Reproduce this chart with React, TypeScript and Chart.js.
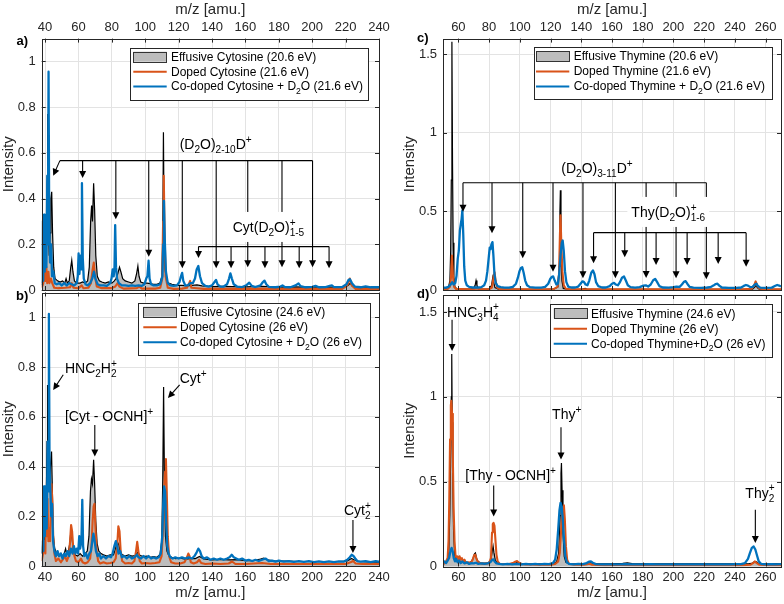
import React, { useEffect, useRef } from "react";
import { Chart, registerables } from "chart.js";

Chart.register(...registerables);

type Pt = [number, number];
type Seg = [string, string?, string?];

const FONT = '"Liberation Sans", Arial, Helvetica, sans-serif';
const BLUE = "#0072BD";
const ORANGE = "#D95319";
const GRAYFILL = "#bdbdbd";
const AXIS = "#262626";
const GRID = "#e3e3e3";

// ---------- tick labels ----------
const cytXTicks = [40, 60, 80, 100, 120, 140, 160, 180, 200, 220, 240];
const cytYTicks = [0, 0.2, 0.4, 0.6, 0.8, 1];
const thyXTicks = [60, 80, 100, 120, 140, 160, 180, 200, 220, 240, 260];
const thyYTicks = [0, 0.5, 1, 1.5];

// ---------- panel a : cytosine, ~21 eV ----------
const aEff: Pt[] = [[38,0.02],[38.6,0.05],[39.2,0.12],[39.6,0.05],[40.3,0.1],[40.9,0.3],[41.3,0.5],[41.6,0.77],[42,0.3],[42.5,0.15],[43,0.25],[43.5,0.4],[44,0.43],[44.5,0.25],[45.2,0.1],[46,0.05],[47.5,0.04],[49,0.035],[50.5,0.04],[51.8,0.03],[52.6,0.05],[53.4,0.03],[54.5,0.04],[55.4,0.1],[56,0.13],[56.7,0.08],[57.6,0.04],[59,0.03],[61,0.03],[62.5,0.035],[64,0.03],[65.5,0.04],[66.5,0.1],[67.3,0.3],[67.9,0.37],[68.4,0.3],[69.1,0.467],[69.7,0.35],[70.4,0.15],[71.3,0.06],[72.5,0.04],[74,0.035],[76,0.03],[78,0.035],[80,0.03],[81.5,0.04],[82.5,0.05],[83.5,0.07],[84.6,0.1],[85.4,0.08],[86.5,0.05],[88,0.04],[90,0.035],[92,0.03],[93.8,0.04],[94.8,0.07],[95.6,0.105],[96.3,0.06],[97.3,0.035],[99,0.03],[101,0.03],[103,0.028],[105,0.025],[107,0.025],[108.8,0.03],[110,0.06],[110.5,0.25],[110.9,0.69],[111.3,0.3],[111.9,0.09],[112.8,0.04],[114,0.03],[116,0.025],[119,0.02],[122,0.02],[125,0.018],[128,0.02],[131,0.022],[134,0.018],[140,0.015],[146,0.016],[152,0.015],[160,0.014],[170,0.016],[180,0.013],[190,0.014],[200,0.012],[210,0.013],[218,0.012],[221.5,0.02],[222.8,0.03],[224,0.018],[228,0.012],[234,0.012],[240,0.01]];
const aDop: Pt[] = [[38,0.01],[39,0.03],[39.7,0.12],[40.2,0.04],[40.8,0.1],[41.3,0.03],[42,0.08],[42.6,0.03],[43.5,0.05],[44.3,0.03],[45.5,0.01],[48,0.008],[52,0.01],[55,0.012],[56,0.03],[57,0.01],[60,0.008],[62,0.02],[63,0.008],[66,0.01],[67.5,0.03],[68.5,0.09],[69.2,0.12],[69.9,0.06],[71,0.015],[74,0.008],[80,0.008],[82,0.015],[83.5,0.03],[84.5,0.015],[87,0.006],[95,0.008],[96.5,0.015],[98,0.006],[106,0.006],[109,0.01],[110.2,0.05],[110.7,0.3],[111.1,0.5],[111.6,0.25],[112.2,0.06],[113.5,0.01],[117,0.005],[122,0.006],[125,0.01],[126.3,0.03],[126.9,0.04],[127.6,0.01],[131,0.008],[135,0.005],[150,0.005],[170,0.005],[200,0.005],[218,0.005],[221,0.02],[222.5,0.05],[223.7,0.02],[226,0.005],[240,0.005]];
const aCo: Pt[] = [[38,0.03],[38.5,0.3],[38.9,0.04],[39.4,0.33],[39.8,0.08],[40.3,0.25],[40.8,0.1],[41.4,0.5],[41.7,0.2],[42.1,0.955],[42.5,0.3],[43,0.12],[43.6,0.2],[44.2,0.06],[45,0.08],[45.8,0.03],[47,0.025],[48.5,0.03],[50,0.02],[51.5,0.03],[53,0.02],[54.5,0.03],[56,0.025],[57.5,0.02],[59,0.03],[59.6,0.06],[60.1,0.16],[60.6,0.07],[61.2,0.15],[61.6,0.09],[62.1,0.467],[62.6,0.14],[63.2,0.05],[64.3,0.025],[65.5,0.02],[67,0.03],[68.3,0.05],[69.3,0.08],[70.2,0.05],[71.5,0.025],[73,0.02],[75,0.02],[77,0.018],[79,0.03],[79.8,0.05],[80.5,0.09],[81.1,0.06],[81.6,0.1],[82,0.284],[82.5,0.1],[83.1,0.05],[84.2,0.03],[86,0.02],[88,0.02],[90,0.018],[92,0.02],[94,0.018],[96,0.02],[98,0.018],[99.5,0.025],[100.6,0.05],[101.3,0.06],[102,0.128],[102.6,0.05],[103.5,0.025],[105,0.02],[107,0.02],[109,0.025],[110.3,0.06],[110.8,0.2],[111.2,0.39],[111.7,0.22],[112.4,0.08],[113.5,0.03],[115,0.02],[117,0.018],[119,0.02],[120.5,0.035],[121.4,0.06],[122.1,0.075],[122.8,0.04],[124,0.02],[125.5,0.02],[127,0.03],[128.5,0.03],[129.8,0.05],[130.8,0.09],[131.8,0.105],[132.8,0.06],[134,0.03],[136,0.018],[138,0.015],[140,0.02],[141.5,0.035],[142.4,0.044],[143.3,0.025],[145,0.015],[147,0.015],[149,0.025],[150.2,0.05],[151,0.073],[151.9,0.05],[153,0.025],[155,0.015],[158,0.013],[160.5,0.02],[162.3,0.032],[163.8,0.018],[166,0.013],[169,0.02],[170.5,0.035],[171.4,0.041],[172.5,0.025],[174,0.014],[178,0.012],[181,0.015],[182.2,0.02],[183.5,0.013],[187,0.012],[190,0.02],[191.8,0.029],[193,0.017],[196,0.012],[200,0.014],[202,0.018],[204,0.012],[208,0.013],[210.5,0.018],[211.8,0.02],[213,0.013],[218,0.013],[220.5,0.025],[221.8,0.045],[222.6,0.047],[223.8,0.03],[225.5,0.015],[229,0.012],[232,0.016],[235,0.012],[238,0.013],[240,0.012]];

// ---------- panel b : cytosine, ~26 eV ----------
const bEff: Pt[] = [[38,0.05],[38.7,0.1],[39.3,0.15],[39.8,0.1],[40.4,0.2],[40.9,0.35],[41.2,0.5],[41.5,0.728],[41.9,0.4],[42.4,0.3],[42.9,0.35],[43.4,0.42],[43.9,0.46],[44.4,0.3],[45,0.12],[45.8,0.07],[47,0.05],[48.3,0.04],[49.5,0.05],[50.5,0.04],[51.5,0.05],[52.3,0.07],[53,0.05],[54,0.06],[54.8,0.09],[55.5,0.14],[56.2,0.11],[57,0.06],[58,0.045],[59.5,0.04],[61,0.05],[62.5,0.04],[64,0.05],[65.3,0.06],[66.3,0.12],[67.2,0.3],[67.8,0.35],[68.4,0.33],[69.1,0.427],[69.7,0.33],[70.4,0.18],[71.2,0.09],[72.2,0.06],[73.5,0.05],[75,0.045],[77,0.04],[79,0.045],[81,0.045],[82.2,0.07],[83.2,0.1],[84.2,0.085],[85.2,0.05],[86.5,0.045],[88,0.04],[90,0.045],[92,0.04],[94,0.042],[95.5,0.055],[97,0.042],[99,0.038],[101,0.04],[103,0.035],[105,0.038],[107,0.035],[108.8,0.045],[109.9,0.1],[110.5,0.35],[111,0.72],[111.5,0.35],[112.1,0.12],[113,0.06],[114.2,0.04],[116,0.035],[118,0.03],[121,0.032],[124,0.028],[127,0.03],[130,0.03],[132.5,0.038],[135,0.028],[140,0.025],[145,0.027],[150,0.025],[155,0.026],[160,0.022],[165,0.022],[169,0.028],[171,0.032],[173,0.025],[178,0.02],[185,0.02],[192,0.018],[200,0.018],[208,0.018],[216,0.018],[221,0.02],[223.5,0.03],[225,0.025],[228,0.018],[234,0.016],[240,0.015]];
const bDop: Pt[] = [[38,0.02],[38.8,0.05],[39.5,0.1],[40.2,0.05],[40.7,0.3],[41.1,0.12],[41.5,0.27],[42,0.1],[42.5,0.15],[43,0.1],[43.6,0.28],[43.9,0.33],[44.4,0.25],[44.9,0.12],[45.6,0.05],[46.5,0.02],[48,0.03],[49.5,0.015],[51,0.03],[52,0.04],[53,0.02],[54.2,0.04],[55,0.1],[55.6,0.165],[56.2,0.14],[56.8,0.08],[57.6,0.04],[58.5,0.02],[60,0.015],[61.5,0.03],[62.5,0.015],[64,0.01],[65.5,0.015],[67,0.03],[67.8,0.08],[68.5,0.18],[69.1,0.24],[69.6,0.25],[70.2,0.15],[70.9,0.06],[71.8,0.02],[73,0.01],[75,0.015],[77,0.01],[79,0.012],[81,0.015],[82.3,0.03],[83.2,0.08],[83.9,0.16],[84.6,0.14],[85.3,0.06],[86.2,0.02],[88,0.01],[90,0.012],[92,0.01],[93.5,0.02],[94.5,0.06],[95.2,0.097],[95.9,0.06],[96.7,0.02],[98,0.01],[100,0.012],[103,0.01],[106,0.012],[108.5,0.015],[109.8,0.04],[110.7,0.15],[111.3,0.3],[111.9,0.38],[112.4,0.43],[112.9,0.3],[113.5,0.12],[114.3,0.04],[115.5,0.015],[118,0.01],[121,0.01],[123.5,0.015],[125,0.035],[125.8,0.05],[126.5,0.04],[127.3,0.015],[129,0.01],[131,0.015],[132.3,0.025],[133.5,0.012],[136,0.008],[140,0.01],[145,0.008],[150,0.01],[152,0.018],[154,0.008],[160,0.008],[165,0.01],[170,0.012],[175,0.008],[180,0.008],[190,0.008],[200,0.008],[210,0.008],[220,0.008],[223,0.015],[224.5,0.02],[226,0.01],[230,0.008],[240,0.008]];
const bCo: Pt[] = [[38,0.05],[38.5,0.1],[39,0.06],[39.4,0.32],[39.9,0.12],[40.5,0.32],[41,0.15],[41.6,0.5],[42,0.3],[42.3,1.014],[42.7,0.4],[43.2,0.3],[43.7,0.2],[44.2,0.25],[44.8,0.1],[45.6,0.06],[46.5,0.04],[47.5,0.06],[48.5,0.04],[49.5,0.05],[50.5,0.03],[51.5,0.05],[52.5,0.04],[53.5,0.06],[54.5,0.04],[55.5,0.07],[56.5,0.05],[57.3,0.08],[58.2,0.05],[59,0.07],[59.8,0.05],[60.5,0.12],[61,0.07],[61.8,0.1],[62.3,0.266],[62.8,0.08],[63.5,0.04],[64.5,0.05],[65.5,0.03],[66.5,0.05],[67.5,0.06],[68.3,0.1],[69,0.13],[69.7,0.1],[70.5,0.06],[71.5,0.04],[72.5,0.05],[73.5,0.03],[75,0.04],[76.5,0.03],[78,0.04],[79.5,0.035],[80.5,0.05],[81.5,0.08],[82.4,0.1],[83.2,0.08],[84,0.05],[85,0.06],[86,0.035],[87.5,0.04],[89,0.03],[90.5,0.04],[92,0.03],[93.5,0.035],[95,0.045],[96,0.035],[97.5,0.03],[99,0.04],[100.5,0.03],[102,0.04],[103.5,0.03],[105,0.035],[106.5,0.03],[108,0.035],[109.3,0.05],[110.2,0.12],[110.8,0.25],[111.3,0.32],[111.9,0.3],[112.5,0.18],[113.2,0.08],[114,0.05],[115,0.035],[116.5,0.03],[118,0.035],[120,0.03],[122,0.035],[124,0.03],[126,0.035],[128,0.03],[129.5,0.04],[130.8,0.055],[131.8,0.07],[132.8,0.06],[133.8,0.04],[135,0.03],[137,0.035],[139,0.025],[141,0.03],[143,0.025],[145,0.03],[147,0.025],[149,0.03],[150.5,0.035],[151.8,0.045],[153,0.035],[154.5,0.03],[156,0.025],[158,0.03],[160,0.022],[162,0.025],[164,0.02],[166,0.025],[168,0.02],[170,0.025],[172,0.03],[174,0.02],[176,0.022],[178,0.018],[180,0.022],[183,0.018],[186,0.02],[189,0.017],[192,0.02],[195,0.017],[198,0.02],[201,0.016],[204,0.019],[207,0.016],[210,0.019],[213,0.016],[216,0.019],[219,0.018],[221,0.025],[222.5,0.035],[223.6,0.045],[224.7,0.04],[225.8,0.03],[227,0.02],[229,0.018],[232,0.02],[235,0.016],[238,0.02],[240,0.017]];

// ---------- panel c : thymine, ~21 eV ----------
const cEff: Pt[] = [[50,0.008],[52,0.01],[53.5,0.015],[54.5,0.06],[55,0.25],[55.4,0.7],[55.8,1.58],[56.2,0.8],[56.6,0.3],[57.1,0.08],[57.8,0.02],[58.8,0.01],[61,0.008],[64,0.006],[67,0.006],[70,0.01],[70.9,0.03],[71.5,0.06],[72.1,0.03],[73,0.008],[76,0.005],[80,0.006],[81.6,0.03],[82.4,0.08],[83,0.05],[83.8,0.015],[86,0.005],[95,0.005],[105,0.004],[115,0.004],[122,0.005],[124.8,0.02],[125.6,0.15],[126.1,0.5],[126.4,0.635],[126.8,0.3],[127.4,0.06],[128.3,0.01],[131,0.005],[140,0.004],[142.5,0.01],[144,0.004],[160,0.004],[180,0.004],[200,0.004],[220,0.004],[240,0.004],[251.5,0.006],[253,0.02],[253.8,0.03],[254.6,0.015],[256,0.004],[270,0.004]];
const cDop: Pt[] = [[50,0.005],[53,0.006],[54.5,0.02],[55.2,0.08],[55.8,0.22],[56.4,0.1],[57.2,0.02],[58.5,0.006],[62,0.006],[66,0.005],[70,0.006],[72,0.01],[74,0.005],[80,0.005],[81.8,0.015],[82.6,0.06],[83.2,0.1],[83.6,0.113],[84.2,0.06],[85.2,0.015],[87,0.005],[95,0.005],[105,0.005],[115,0.005],[122,0.006],[124.5,0.02],[125.5,0.1],[126.1,0.35],[126.5,0.475],[127,0.3],[127.7,0.12],[128.6,0.03],[130,0.008],[133,0.005],[145,0.005],[165,0.005],[185,0.005],[205,0.005],[225,0.005],[245,0.005],[251,0.008],[252.5,0.03],[253.5,0.055],[254.5,0.03],[256,0.008],[260,0.005],[270,0.005]];
const cCo: Pt[] = [[50,0.015],[52,0.015],[53.5,0.02],[55,0.035],[56,0.05],[57,0.035],[58,0.045],[58.8,0.09],[59.6,0.2],[60.3,0.25],[61,0.38],[61.6,0.42],[62.1,0.45],[62.6,0.507],[63.2,0.35],[63.8,0.15],[64.5,0.06],[65.5,0.03],[67,0.02],[69,0.016],[71,0.016],[73,0.016],[75,0.018],[76.8,0.03],[78,0.06],[78.9,0.12],[79.7,0.2],[80.4,0.27],[81,0.26],[81.5,0.29],[82.2,0.305],[82.8,0.22],[83.5,0.1],[84.3,0.045],[85.5,0.025],[87.5,0.018],[90,0.015],[93,0.015],[95.5,0.02],[97.5,0.04],[98.8,0.08],[99.8,0.12],[100.7,0.14],[101.6,0.145],[102.5,0.11],[103.5,0.06],[104.7,0.03],[106.5,0.018],[110,0.015],[114,0.015],[116.5,0.02],[118.5,0.04],[119.8,0.07],[120.8,0.084],[121.7,0.086],[122.7,0.06],[123.8,0.035],[124.8,0.04],[125.6,0.1],[126.5,0.22],[127.3,0.3],[127.9,0.315],[128.6,0.25],[129.4,0.12],[130.3,0.05],[131.5,0.022],[133.5,0.016],[136,0.016],[138,0.022],[139.5,0.04],[140.8,0.055],[141.8,0.05],[142.8,0.035],[144,0.03],[145.2,0.06],[146.5,0.11],[147.6,0.125],[148.6,0.1],[149.6,0.05],[151,0.025],[153.5,0.016],[156,0.016],[158.5,0.025],[160,0.04],[161.3,0.045],[162.5,0.035],[163.8,0.03],[165.2,0.05],[166.5,0.078],[167.8,0.086],[169,0.06],[170.3,0.03],[172,0.018],[175,0.015],[178,0.018],[180.5,0.028],[182,0.03],[183.5,0.022],[185.2,0.035],[186.8,0.062],[188.1,0.071],[189.4,0.05],[190.8,0.025],[193,0.016],[197,0.015],[200,0.018],[202,0.022],[204,0.02],[205.5,0.035],[206.8,0.052],[207.9,0.056],[209,0.04],[210.5,0.02],[213,0.015],[218,0.014],[222,0.016],[224,0.018],[226,0.028],[227.5,0.038],[228.6,0.04],[229.8,0.028],[231.5,0.016],[236,0.013],[241,0.014],[244,0.016],[245.8,0.026],[247.2,0.032],[248.5,0.028],[250,0.018],[251.5,0.02],[253,0.035],[254,0.04],[255,0.025],[256.5,0.015],[260,0.013],[264,0.015],[266,0.025],[267.5,0.032],[268.8,0.028],[270,0.022]];

// ---------- panel d : thymine, ~26 eV ----------
const dEff: Pt[] = [[50,0.02],[51,0.025],[52,0.03],[53,0.04],[53.8,0.1],[54.4,0.3],[54.9,0.6],[55.4,1.0],[55.7,1.253],[56,0.85],[56.4,0.5],[56.9,0.2],[57.6,0.07],[58.5,0.04],[60,0.035],[61.5,0.03],[63,0.03],[65,0.025],[67,0.022],[68.5,0.03],[69.6,0.05],[70.5,0.075],[71.1,0.08],[71.8,0.05],[72.8,0.03],[74.5,0.022],[77,0.02],[79.5,0.022],[81.2,0.04],[82.2,0.1],[82.6,0.12],[83.2,0.08],[84,0.04],[85.2,0.022],[87,0.018],[90,0.016],[94,0.017],[97,0.02],[98.5,0.024],[100,0.018],[104,0.016],[109,0.015],[114,0.016],[119,0.015],[122,0.017],[124,0.03],[125.3,0.08],[126.2,0.3],[126.8,0.55],[127.1,0.61],[127.5,0.45],[128.1,0.2],[128.9,0.06],[130,0.025],[132,0.017],[136,0.015],[141,0.016],[145,0.02],[146.5,0.023],[148,0.017],[153,0.015],[160,0.016],[167,0.018],[170,0.022],[173,0.017],[180,0.016],[188,0.015],[196,0.016],[204,0.015],[212,0.016],[220,0.015],[228,0.016],[236,0.015],[244,0.016],[249,0.016],[251.5,0.02],[253,0.03],[254,0.028],[255.5,0.017],[260,0.015],[265,0.016],[270,0.015]];
const dDop: Pt[] = [[50,0.01],[51,0.02],[52,0.03],[53,0.05],[53.6,0.15],[54.1,0.4],[54.6,0.75],[55.1,0.95],[55.4,0.976],[55.9,0.9],[56.4,0.65],[56.9,0.35],[57.5,0.15],[58.1,0.07],[58.7,0.05],[59.4,0.06],[60.1,0.04],[60.8,0.06],[61.5,0.04],[62.3,0.05],[63,0.03],[64,0.04],[65,0.02],[66.5,0.025],[68,0.02],[69.3,0.04],[70.2,0.065],[71,0.07],[71.8,0.045],[72.8,0.025],[74,0.02],[76,0.015],[78,0.017],[80,0.02],[81.2,0.05],[81.9,0.2],[82.4,0.25],[82.9,0.257],[83.5,0.24],[84.1,0.16],[84.8,0.07],[85.6,0.03],[87,0.015],[90,0.015],[93,0.014],[95.5,0.02],[97,0.028],[98.2,0.032],[99.4,0.022],[101,0.015],[104,0.012],[108,0.012],[112,0.01],[116,0.011],[120,0.011],[123,0.015],[125,0.03],[126,0.08],[126.8,0.2],[127.5,0.3],[128.2,0.35],[128.7,0.36],[129.3,0.28],[130,0.12],[130.8,0.04],[132,0.015],[136,0.01],[142,0.01],[145.5,0.016],[147,0.01],[155,0.008],[165,0.009],[175,0.008],[185,0.008],[195,0.008],[205,0.008],[215,0.008],[225,0.008],[235,0.008],[245,0.008],[250,0.01],[251.8,0.02],[253,0.03],[254.2,0.02],[256,0.01],[262,0.008],[270,0.008]];
const dCo: Pt[] = [[50,0.02],[51,0.03],[52,0.02],[53,0.035],[54,0.05],[54.8,0.09],[55.6,0.11],[56.3,0.09],[57,0.05],[57.8,0.03],[58.6,0.045],[59.5,0.025],[60.5,0.035],[61.5,0.02],[62.5,0.03],[64,0.018],[65.5,0.025],[67,0.015],[68.5,0.02],[70,0.018],[71.5,0.022],[73,0.015],[75,0.018],[77,0.015],[79,0.018],[80.8,0.025],[82,0.038],[82.8,0.042],[83.6,0.03],[84.8,0.018],[86.5,0.015],[89,0.013],[92,0.015],[95,0.013],[98,0.016],[101,0.013],[104,0.015],[107,0.013],[110,0.015],[113,0.013],[116,0.015],[119,0.014],[121.5,0.02],[123,0.04],[124,0.1],[125,0.22],[125.8,0.33],[126.5,0.375],[127.3,0.35],[128,0.27],[128.8,0.15],[129.6,0.06],[130.6,0.025],[132,0.015],[135,0.013],[138,0.015],[141,0.014],[143.5,0.02],[145,0.028],[146.3,0.03],[147.5,0.022],[149.5,0.014],[153,0.013],[157,0.012],[161,0.013],[165,0.012],[169,0.014],[173,0.012],[177,0.013],[181,0.012],[185,0.014],[189,0.012],[193,0.013],[197,0.012],[201,0.013],[205,0.012],[209,0.013],[213,0.012],[217,0.013],[221,0.012],[225,0.013],[229,0.012],[233,0.013],[237,0.012],[241,0.014],[244,0.014],[246.5,0.02],[248.5,0.045],[249.8,0.08],[251,0.11],[252.2,0.118],[253.3,0.1],[254.4,0.065],[255.5,0.03],[257,0.016],[260,0.013],[264,0.014],[267,0.013],[270,0.014]];

// ---------- legend labels ----------
const aLegend: Seg[][] = [[["Effusive Cytosine (20.6 eV)"]], [["Doped Cytosine (21.6 eV)"]], [["Co-doped Cytosine + D"], ["2", "b"], ["O (21.6 eV)"]]];
const bLegend: Seg[][] = [[["Effusive Cytosine (24.6 eV)"]], [["Doped Cytosine (26 eV)"]], [["Co-doped Cytosine + D"], ["2", "b"], ["O (26 eV)"]]];
const cLegend: Seg[][] = [[["Effusive Thymine (20.6 eV)"]], [["Doped Thymine (21.6 eV)"]], [["Co-doped Thymine + D"], ["2", "b"], ["O (21.6 eV)"]]];
const dLegend: Seg[][] = [[["Effusive Thymine (24.6 eV)"]], [["Doped Thymine (26 eV)"]], [["Co-doped Thymine+D"], ["2", "b"], ["O (26 eV)"]]];

// ---------- annotation series (m/z of the marked ions, arrow tip intensities) ----------
const aClusterMz = [62.5, 82.4, 102.1, 122.2, 142.5, 161.4, 181.9, 200.2];
const aClusterTip = [0.49, 0.31, 0.145, 0.095, 0.095, 0.1, 0.1, 0.1];
const aClusterBar = 0.566;
const aCytWaterMz = [131.9, 151.4, 171.7, 192.2, 210.1];
const aCytWaterTip = [0.14, 0.095, 0.095, 0.095, 0.095];
const aCytWaterBar = 0.19;
const cClusterMz = [63.0, 81.9, 101.9, 121.6, 141.1, 162.2, 182.2, 201.7, 221.4];
const cClusterTip = [0.498, 0.361, 0.202, 0.116, 0.074, 0.074, 0.077, 0.074, 0.068];
const cClusterBar = 0.683;
const cThyWaterMz = [148.0, 168.3, 188.7, 208.9, 229.1, 247.3];
const cThyWaterTip = [0.17, 0.208, 0.159, 0.159, 0.166, 0.148];
const cThyWaterBar = 0.365;

interface Arrow { from: Pt; to: Pt; head: boolean }
interface Label { m: number; i: number; segs: Seg[]; bg?: boolean }
interface Spec {
  eff: Pt[]; dop: Pt[]; co: Pt[];
  xMin: number; xMax: number; yMax: number; xTicks: number[]; yTicks: number[];
  xPos: "top" | "bottom";
  area: { l: number; t: number; r: number; b: number };
  letter: string; letterXY: Pt; yTitleX: number; xTitleY: number; xTickY: number;
  legend: { box: [number, number, number, number]; icon: Pt; textX: number; rows: number[]; labels: Seg[][] };
  labels: Label[]; arrows: Arrow[];
}

function bracket(mz: number[], tips: number[], bar: number, start?: number): Arrow[] {
  const out: Arrow[] = [{ from: [start ?? mz[0], bar], to: [mz[mz.length - 1], bar], head: false }];
  mz.forEach((m, k) => out.push({ from: [m, bar], to: [m, tips[k]], head: true }));
  return out;
}

const specs: Spec[] = [
  {
    eff: aEff, dop: aDop, co: aCo, xMin: 38, xMax: 240, yMax: 1.1, xTicks: cytXTicks, yTicks: cytYTicks,
    xPos: "top", area: { l: 41.7, t: 38.6, r: 379, b: 290 },
    letter: "a)", letterXY: [16.5, 44.5], yTitleX: 9, xTitleY: 9.5, xTickY: 27,
    legend: { box: [130, 47.7, 238.3, 52.3], icon: [133.3, 166.7], textX: 171, rows: [56.7, 71.3, 86], labels: aLegend },
    labels: [
      { m: 120.6, i: 0.617, segs: [["(D"], ["2", "b"], ["O)"], ["2-10", "b"], ["D"], ["+", "p"]] },
      { m: 152.4, i: 0.254, segs: [["Cyt(D"], ["2", "b"], ["O)"], ["+", "bp", "1-5"]], bg: true },
    ],
    arrows: [
      ...bracket(aClusterMz, aClusterTip, aClusterBar, 48.9),
      { from: [48.9, aClusterBar], to: [44.9, 0.5], head: true },
      ...bracket(aCytWaterMz, aCytWaterTip, aCytWaterBar),
    ],
  },
  {
    eff: bEff, dop: bDop, co: bCo, xMin: 38, xMax: 240, yMax: 1.1, xTicks: cytXTicks, yTicks: cytYTicks,
    xPos: "bottom", area: { l: 41.7, t: 292.5, r: 379, b: 566 },
    letter: "b)", letterXY: [16, 299.5], yTitleX: 9, xTitleY: 592.5, xTickY: 577,
    legend: { box: [138.3, 302.7, 231.7, 52.3], icon: [143.3, 176.7], textX: 180, rows: [311.7, 326.7, 341.7], labels: bLegend },
    labels: [
      { m: 51.9, i: 0.777, segs: [["HNC"], ["2", "b"], ["H"], ["+", "bp", "2"]] },
      { m: 51.9, i: 0.583, segs: [["[Cyt - OCNH]"], ["+", "p"]] },
      { m: 120.6, i: 0.736, segs: [["Cyt"], ["+", "p"]] },
      { m: 219, i: 0.205, segs: [["Cyt"], ["+", "bp", "2"]] },
    ],
    arrows: [
      { from: [50.9, 0.769], to: [44.9, 0.708], head: true },
      { from: [69.8, 0.567], to: [69.8, 0.44], head: true },
      { from: [120.6, 0.728], to: [113.6, 0.676], head: true },
      { from: [224.4, 0.185], to: [224.4, 0.052], head: true },
    ],
  },
  {
    eff: cEff, dop: cDop, co: cCo, xMin: 50, xMax: 270, yMax: 1.6, xTicks: thyXTicks, yTicks: thyYTicks,
    xPos: "top", area: { l: 443, t: 38.6, r: 781, b: 290 },
    letter: "c)", letterXY: [417, 41.5], yTitleX: 410, xTitleY: 9.5, xTickY: 27,
    legend: { box: [533.7, 47.3, 238.3, 52], icon: [536, 569.3], textX: 573.7, rows: [56, 71, 86], labels: cLegend },
    labels: [
      { m: 127, i: 0.743, segs: [["(D"], ["2", "b"], ["O)"], ["3-11", "b"], ["D"], ["+", "p"]] },
      { m: 172.6, i: 0.465, segs: [["Thy(D"], ["2", "b"], ["O)"], ["+", "bp", "1-6"]], bg: true },
    ],
    arrows: [...bracket(cClusterMz, cClusterTip, cClusterBar), ...bracket(cThyWaterMz, cThyWaterTip, cThyWaterBar)],
  },
  {
    eff: dEff, dop: dDop, co: dCo, xMin: 50, xMax: 270, yMax: 1.6, xTicks: thyXTicks, yTicks: thyYTicks,
    xPos: "bottom", area: { l: 443, t: 295, r: 781, b: 566.5 },
    letter: "d)", letterXY: [417, 298], yTitleX: 410, xTitleY: 592.5, xTickY: 577,
    legend: { box: [550.3, 304, 221.7, 52.7], icon: [553.7, 587], textX: 591, rows: [313.3, 328.3, 343.3], labels: dLegend },
    labels: [
      { m: 52.6, i: 1.472, segs: [["HNC"], ["3", "b"], ["H"], ["+", "bp", "4"]] },
      { m: 121, i: 0.868, segs: [["Thy"], ["+", "p"]] },
      { m: 64.5, i: 0.507, segs: [["[Thy - OCNH]"], ["+", "p"]] },
      { m: 246.8, i: 0.406, segs: [["Thy"], ["+", "bp", "2"]] },
    ],
    arrows: [
      { from: [55.9, 1.454], to: [55.9, 1.27], head: true },
      { from: [83, 0.478], to: [83, 0.294], head: true },
      { from: [126.8, 0.82], to: [126.8, 0.631], head: true },
      { from: [253.3, 0.335], to: [253.3, 0.138], head: true },
    ],
  },
];

// ---------- drawing helpers ----------
const SMALL = 0.72;
function segsWidth(ctx: CanvasRenderingContext2D, segs: Seg[], size: number) {
  let w = 0;
  for (const s of segs) {
    const kind = s[1] || "n";
    if (kind === "n") { ctx.font = `${size}px ${FONT}`; w += ctx.measureText(s[0]).width; }
    else {
      ctx.font = `${size * SMALL}px ${FONT}`;
      const w1 = ctx.measureText(s[0]).width;
      const w2 = kind === "bp" ? ctx.measureText(s[2] || "").width : 0;
      w += Math.max(w1, w2);
    }
  }
  return w;
}
function drawSegs(ctx: CanvasRenderingContext2D, x: number, y: number, segs: Seg[], size: number) {
  ctx.textAlign = "left";
  ctx.textBaseline = "alphabetic";
  let cx = x;
  for (const s of segs) {
    const kind = s[1] || "n";
    if (kind === "n") {
      ctx.font = `${size}px ${FONT}`;
      ctx.fillText(s[0], cx, y);
      cx += ctx.measureText(s[0]).width;
    } else {
      ctx.font = `${size * SMALL}px ${FONT}`;
      const sub = size * 0.3, sup = size * 0.45;
      if (kind === "b") { ctx.fillText(s[0], cx, y + sub); cx += ctx.measureText(s[0]).width; }
      else if (kind === "p") { ctx.fillText(s[0], cx, y - sup); cx += ctx.measureText(s[0]).width; }
      else {
        ctx.fillText(s[0], cx, y - sup);
        ctx.fillText(s[2] || "", cx, y + sub);
        cx += Math.max(ctx.measureText(s[0]).width, ctx.measureText(s[2] || "").width);
      }
    }
  }
}
function drawArrow(ctx: CanvasRenderingContext2D, x1: number, y1: number, x2: number, y2: number, head: boolean) {
  const a = Math.atan2(y2 - y1, x2 - x1);
  const L = 7, W = 3.5;
  const ex = head ? x2 - Math.cos(a) * L * 0.6 : x2;
  const ey = head ? y2 - Math.sin(a) * L * 0.6 : y2;
  ctx.beginPath();
  ctx.moveTo(x1, y1);
  ctx.lineTo(ex, ey);
  ctx.stroke();
  if (head) {
    const bx = x2 - Math.cos(a) * L, by = y2 - Math.sin(a) * L;
    const px = -Math.sin(a) * W, py = Math.cos(a) * W;
    ctx.beginPath();
    ctx.moveTo(x2, y2);
    ctx.lineTo(bx + px, by + py);
    ctx.lineTo(bx - px, by - py);
    ctx.closePath();
    ctx.fill();
  }
}
const al = (v: number) => Math.round(v) + 0.5;

function framePlugin(spec: Spec) {
  return {
    id: "frame",
    afterDraw(chart: any) {
      const ctx: CanvasRenderingContext2D = chart.ctx;
      const xs = chart.scales.x, ys = chart.scales.y;
      const { left, right, top, bottom } = chart.chartArea;
      const X = (m: number) => xs.getPixelForValue(m);
      const Y = (v: number) => ys.getPixelForValue(v);
      ctx.save();
      // annotations
      ctx.strokeStyle = "#000";
      ctx.fillStyle = "#000";
      ctx.lineWidth = 1.1;
      for (const a of spec.arrows) drawArrow(ctx, X(a.from[0]), Y(a.from[1]), X(a.to[0]), Y(a.to[1]), a.head);
      for (const t of spec.labels) {
        const x = X(t.m), y = Y(t.i);
        if (t.bg) {
          const w = segsWidth(ctx, t.segs, 14);
          ctx.fillStyle = "#fff";
          ctx.fillRect(x - 4, y - 20, w + 8, 30);
        }
        ctx.fillStyle = "#000";
        drawSegs(ctx, x, y, t.segs, 14);
      }
      // legend
      const L = spec.legend;
      const [bx, by, bw, bh] = L.box;
      ctx.fillStyle = "#fff";
      ctx.fillRect(bx, by, bw, bh);
      ctx.strokeStyle = AXIS;
      ctx.lineWidth = 1;
      ctx.strokeRect(al(bx), al(by), Math.round(bw), Math.round(bh));
      L.rows.forEach((ry, k) => {
        if (k === 0) {
          ctx.fillStyle = GRAYFILL;
          ctx.fillRect(L.icon[0], ry - 5, L.icon[1] - L.icon[0], 10);
          ctx.strokeStyle = "#333";
          ctx.strokeRect(al(L.icon[0]), al(ry - 5), Math.round(L.icon[1] - L.icon[0]), 10);
        } else {
          ctx.strokeStyle = k === 1 ? ORANGE : BLUE;
          ctx.lineWidth = 2;
          ctx.beginPath();
          ctx.moveTo(L.icon[0], ry + 0.5);
          ctx.lineTo(L.icon[1], ry + 0.5);
          ctx.stroke();
          ctx.lineWidth = 1;
        }
        ctx.fillStyle = "#000";
        drawSegs(ctx, L.textX, ry + 4.3, L.labels[k], 12);
      });
      // axes box and inward ticks
      ctx.strokeStyle = AXIS;
      ctx.lineWidth = 1;
      ctx.strokeRect(al(left), al(top), Math.round(right) - Math.round(left), Math.round(bottom) - Math.round(top));
      ctx.beginPath();
      for (const v of spec.xTicks) {
        const px = al(X(v));
        ctx.moveTo(px, top); ctx.lineTo(px, top + 4);
        ctx.moveTo(px, bottom); ctx.lineTo(px, bottom - 4);
      }
      for (const v of spec.yTicks) {
        const py = al(Y(v));
        ctx.moveTo(left, py); ctx.lineTo(left + 4, py);
        ctx.moveTo(right, py); ctx.lineTo(right - 4, py);
      }
      ctx.stroke();
      // tick labels
      ctx.fillStyle = AXIS;
      ctx.font = `13px ${FONT}`;
      ctx.textAlign = "center";
      ctx.textBaseline = "middle";
      for (const v of spec.xTicks) ctx.fillText(String(v), X(v), spec.xTickY);
      ctx.textAlign = "right";
      for (const v of spec.yTicks) ctx.fillText(String(v), left - 6, Y(v));
      // axis titles
      ctx.font = `15px ${FONT}`;
      ctx.textAlign = "center";
      ctx.fillText("m/z [amu.]", (left + right) / 2, spec.xTitleY);
      ctx.save();
      ctx.translate(spec.yTitleX, (top + bottom) / 2);
      ctx.rotate(-Math.PI / 2);
      ctx.fillText("Intensity", 0, 0);
      ctx.restore();
      // panel letter
      ctx.fillStyle = "#000";
      ctx.font = `bold 13px ${FONT}`;
      ctx.textAlign = "left";
      ctx.textBaseline = "alphabetic";
      ctx.fillText(spec.letter, spec.letterXY[0], spec.letterXY[1]);
      ctx.restore();
    },
  };
}

function buildConfig(spec: Spec): any {
  const toXY = (arr: Pt[]) => arr.map(([x, y]) => ({ x, y }));
  const W = 784, H = 604;
  const a = spec.area;
  return {
    type: "line",
    data: {
      datasets: [
        { label: "co", data: toXY(spec.co), borderColor: BLUE, borderWidth: 2.3, pointRadius: 0, fill: false, tension: 0, order: 0, borderJoinStyle: "round" },
        { label: "dop", data: toXY(spec.dop), borderColor: ORANGE, borderWidth: 2.1, pointRadius: 0, fill: false, tension: 0, order: 1, borderJoinStyle: "round" },
        { label: "eff", data: toXY(spec.eff), borderColor: "#000", borderWidth: 1.2, pointRadius: 0, fill: "origin", backgroundColor: GRAYFILL, tension: 0, order: 2 },
      ],
    },
    options: {
      animation: false,
      responsive: false,
      events: [],
      layout: {
        padding: {
          left: 0,
          top: spec.xPos === "bottom" ? a.t : 0,
          right: W - a.r,
          bottom: spec.xPos === "top" ? H - a.b : 0,
        },
      },
      plugins: { legend: { display: false }, tooltip: { enabled: false } },
      scales: {
        x: {
          type: "linear", position: spec.xPos, min: spec.xMin, max: spec.xMax,
          afterBuildTicks: (s: any) => { s.ticks = spec.xTicks.map((v) => ({ value: v })); },
          afterFit: (s: any) => { s.height = spec.xPos === "top" ? a.t : H - a.b; },
          ticks: { display: false },
          grid: { color: GRID, drawTicks: false, lineWidth: 1 },
          border: { display: false },
        },
        y: {
          type: "linear", position: "left", min: 0, max: spec.yMax,
          afterBuildTicks: (s: any) => { s.ticks = spec.yTicks.map((v) => ({ value: v })); },
          afterFit: (s: any) => { s.width = a.l; },
          ticks: { display: false },
          grid: { color: GRID, drawTicks: false, lineWidth: 1 },
          border: { display: false },
        },
      },
    },
    plugins: [framePlugin(spec)],
  };
}

function Panel({ spec }: { spec: Spec }) {
  const ref = useRef<HTMLCanvasElement>(null);
  useEffect(() => {
    const chart = new Chart(ref.current as HTMLCanvasElement, buildConfig(spec));
    return () => chart.destroy();
  }, [spec]);
  return (
    <canvas
      ref={ref}
      width={784}
      height={604}
      style={{ position: "absolute", left: 0, top: 0, width: 784, height: 604 }}
    />
  );
}

export default function App() {
  return (
    <div style={{ position: "absolute", left: 0, top: 0, width: 784, height: 604, background: "#fff", overflow: "hidden" }}>
      {specs.map((s, k) => (
        <Panel key={k} spec={s} />
      ))}
    </div>
  );
}
